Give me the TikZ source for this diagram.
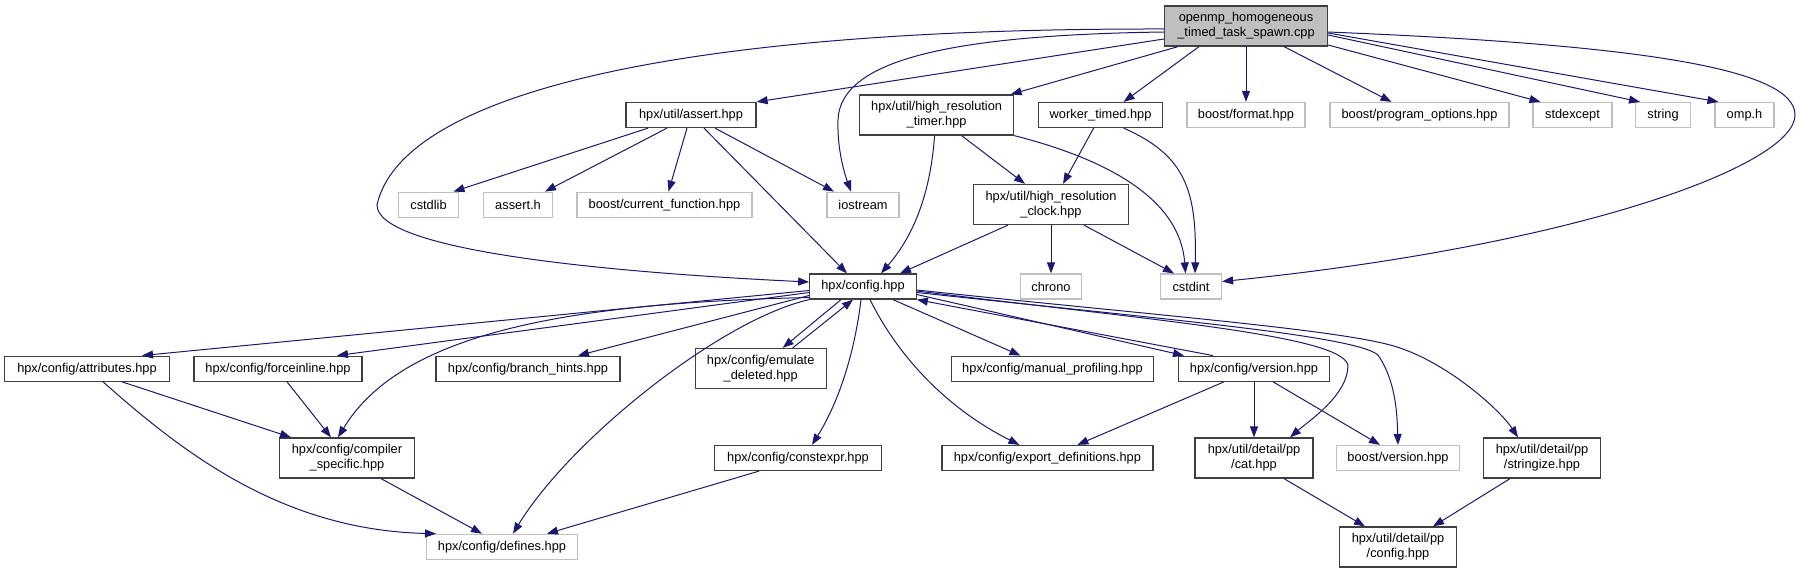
\documentclass[tikz,border=0pt]{standalone}
\usepackage{fontspec}
\setmainfont{Liberation Sans}
\usetikzlibrary{arrows.meta}
\definecolor{edgeblue}{RGB}{25,25,112}
\definecolor{boxline}{RGB}{64,64,64}
\definecolor{sysline}{RGB}{191,191,191}
\definecolor{rootfill}{RGB}{191,191,191}
\newcommand{\doxfont}{\fontsize{12.8}{15}\selectfont}

\begin{document}
\begin{tikzpicture}[x=1pt, y=-1pt,
  hdr/.style={draw=boxline, fill=white, line width=1.25pt, inner sep=0pt,
    minimum height=25pt, font=\doxfont, align=center},
  hdrtwo/.style={hdr, minimum height=40pt},
  sys/.style={hdr, draw=sysline},
  root/.style={hdrtwo, fill=rootfill},
  inc/.style={-{Triangle[length=11pt,width=8pt]}, line width=1pt, edgeblue}
]
\useasboundingbox (0,0) rectangle (1800,573);
% top file
\node[root, minimum width=163pt] (main) at (1246,26) {openmp\_homogeneous\\\_timed\_task\_spawn.cpp};
% direct includes
\node[hdr, minimum width=130pt] (assert) at (691,115) {hpx/util/assert.hpp};
\node[hdrtwo, minimum width=154pt] (hrtimer) at (936.6,115) {hpx/util/high\_resolution\\\_timer.hpp};
\node[hdr, minimum width=124pt] (worker) at (1100.6,115) {worker\_timed.hpp};
\node[sys, minimum width=118pt] (bformat) at (1246,115) {boost/format.hpp};
\node[sys, minimum width=179pt] (bpo) at (1419.5,115) {boost/program\_options.hpp};
\node[sys, minimum width=79pt] (stdexcept) at (1572.5,115) {stdexcept};
\node[sys, minimum width=55pt] (string) at (1663,115) {string};
\node[sys, minimum width=59pt] (omp) at (1744.5,115) {omp.h};
% second level
\node[sys, minimum width=60pt] (cstdlib) at (428.5,204.7) {cstdlib};
\node[sys, minimum width=69pt] (asserth) at (518,204.7) {assert.h};
\node[sys, minimum width=175pt] (curfunc) at (664.5,204.7) {boost/current\_function.hpp};
\node[sys, minimum width=72pt] (iostream) at (863,204.7) {iostream};
\node[hdrtwo, minimum width=154.5pt] (hrclock) at (1051,204.5) {hpx/util/high\_resolution\\\_clock.hpp};
% config level
\node[hdr, minimum width=106.5pt] (config) at (863,286.5) {hpx/config.hpp};
\node[sys, minimum width=61pt] (chrono) at (1051,286.5) {chrono};
\node[sys, minimum width=61pt] (cstdint) at (1191,286.5) {cstdint};
% config includes
\node[hdr, minimum width=164.6pt] (attributes) at (87,368.7) {hpx/config/attributes.hpp};
\node[hdr, minimum width=168pt] (forceinline) at (278,368.7) {hpx/config/forceinline.hpp};
\node[hdr, minimum width=184pt] (branch) at (528,368.7) {hpx/config/branch\_hints.hpp};
\node[hdrtwo, minimum width=131pt] (emulate) at (760.7,368.5) {hpx/config/emulate\\\_deleted.hpp};
\node[hdr, minimum width=202.5pt] (manual) at (1052.5,368.7) {hpx/config/manual\_profiling.hpp};
\node[hdr, minimum width=151pt] (version) at (1254,368.7) {hpx/config/version.hpp};
\node[hdrtwo, minimum width=134.7pt] (compiler) at (347,458) {hpx/config/compiler\\\_specific.hpp};
\node[hdr, minimum width=167pt] (constexpr) at (798,458) {hpx/config/constexpr.hpp};
\node[hdr, minimum width=211pt] (export) at (1047.4,458) {hpx/config/export\_definitions.hpp};
\node[hdrtwo, minimum width=118pt] (cat) at (1254,458) {hpx/util/detail/pp\\/cat.hpp};
\node[sys, minimum width=122.5pt] (bversion) at (1398,458) {boost/version.hpp};
\node[hdrtwo, minimum width=117.5pt] (stringize) at (1542,458) {hpx/util/detail/pp\\/stringize.hpp};
\node[sys, minimum width=150.4pt] (defines) at (502,546.8) {hpx/config/defines.hpp};
\node[hdrtwo, minimum width=117.5pt] (ppconfig) at (1398,547) {hpx/util/detail/pp\\/config.hpp};

% edges from the top file
\draw[inc] ([yshift=-3pt]main.west) .. controls (650,28) and (400,100) .. (377,205)
  .. controls (377,250) and (600,272) .. ([yshift=4.5pt]config.west);
\draw[inc] ([yshift=-6pt]main.west) .. controls (950,35) and (840,60) .. (838,120)
  .. controls (837,150) and (845,175) .. ([xshift=-12pt]iostream.north);
\draw[inc] ([yshift=-13pt]main.west) -- (assert.north east);
\draw[inc] ([xshift=-68pt]main.south) -- ([xshift=74pt]hrtimer.north);
\draw[inc] ([xshift=-47pt]main.south) -- ([xshift=23pt]worker.north);
\draw[inc] (main.south) -- (bformat.north);
\draw[inc] ([xshift=38pt]main.south) -- ([xshift=-28pt]bpo.north);
\draw[inc] ([yshift=-19pt]main.east) -- ([xshift=-32pt]stdexcept.north);
\draw[inc] ([yshift=-9pt]main.east) -- ([xshift=-23pt]string.north);
\draw[inc] ([yshift=-7pt]main.east) -- ([xshift=-26pt]omp.north);
\draw[inc] ([yshift=-6pt]main.east) .. controls (1650,45) and (1795,70) .. (1795,115)
  .. controls (1795,165) and (1580,245) .. ([yshift=5pt]cstdint.east);
% second level
\draw[inc] ([xshift=-43pt]assert.south) -- ([xshift=25pt]cstdlib.north);
\draw[inc] ([xshift=-24pt]assert.south) -- ([xshift=27pt]asserth.north);
\draw[inc] ([xshift=-4pt]assert.south) -- ([xshift=4pt]curfunc.north);
\draw[inc] ([xshift=24pt]assert.south) -- ([xshift=-29pt]iostream.north);
\draw[inc] ([xshift=13pt]assert.south) -- ([xshift=-16pt]config.north);
\draw[inc] ([xshift=-2pt]hrtimer.south) .. controls (930,200) and (910,240) .. ([xshift=18pt]config.north);
\draw[inc] ([xshift=25pt]hrtimer.south) -- ([xshift=-26pt]hrclock.north);
\draw[inc] (hrtimer.south east) .. controls (1110,160) and (1180,200) .. ([xshift=-5.5pt]cstdint.north);
\draw[inc] ([xshift=-7pt]worker.south) -- ([xshift=12pt]hrclock.north);
\draw[inc] ([xshift=23pt]worker.south) .. controls (1185,155) and (1197,190) .. ([xshift=4pt]cstdint.north);
\draw[inc] ([xshift=-43pt]hrclock.south) -- ([xshift=37pt]config.north);
\draw[inc] (hrclock.south) -- (chrono.north);
\draw[inc] ([xshift=33pt]hrclock.south) -- ([xshift=-17pt]cstdint.north);
% config includes
\draw[inc] ([yshift=-4pt]config.west) -- ([xshift=55pt]attributes.north);
\draw[inc] ([yshift=-6pt]config.west) -- ([xshift=59pt]forceinline.north);
\draw[inc] ([yshift=-9pt]config.west) -- ([xshift=50pt]branch.north);
\draw[inc] ([yshift=-11pt]config.west) .. controls (560,303) and (400,335) .. ([xshift=-9pt]compiler.north);
\draw[inc] (config.south west) .. controls (720,320) and (570,440) .. ([xshift=11pt]defines.north);
\draw[inc] ([xshift=-22pt]config.south) -- ([xshift=22pt]emulate.north);
\draw[inc] ([xshift=32pt]emulate.north) -- ([xshift=-10pt]config.south);
\draw[inc] ([xshift=-2pt]config.south) .. controls (855,350) and (840,400) .. ([xshift=14pt]constexpr.north);
\draw[inc] ([xshift=7pt]config.south) .. controls (900,360) and (950,410) .. ([xshift=-28pt]export.north);
\draw[inc] ([xshift=30pt]config.south) -- ([xshift=-32pt]manual.north);
\draw[inc] ([yshift=-8pt]config.east) -- ([xshift=-70pt]version.north);
\draw[inc] ([xshift=-41pt]version.north) -- (config.south east);
\draw[inc] ([yshift=-4.5pt]config.east) .. controls (1150,320) and (1340,335) .. (1348,365)
  .. controls (1348,395) and (1310,420) .. ([xshift=36pt]cat.north);
\draw[inc] ([yshift=-6pt]config.east) .. controls (1150,318) and (1355,335) .. (1378,355)
  .. controls (1395,380) and (1397,410) .. (bversion.north);
\draw[inc] ([yshift=-3.5pt]config.east) .. controls (1150,315) and (1350,330) .. (1400,348)
  .. controls (1450,365) and (1500,410) .. ([xshift=-24pt]stringize.north);
% lower levels
\draw[inc] ([xshift=35pt]attributes.south) -- ([xshift=-56pt]compiler.north);
\draw[inc] ([xshift=16pt]attributes.south) .. controls (180,450) and (280,530) .. ([xshift=-66pt]defines.north);
\draw[inc] ([xshift=9pt]forceinline.south) -- ([xshift=-16pt]compiler.north);
\draw[inc] ([xshift=34pt]compiler.south) -- ([xshift=-20pt]defines.north);
\draw[inc] ([xshift=-39pt]constexpr.south) -- ([xshift=45pt]defines.north);
\draw[inc] ([xshift=-30pt]version.south) -- ([xshift=30pt]export.north);
\draw[inc] (version.south) -- (cat.north);
\draw[inc] ([xshift=19pt]version.south) -- ([xshift=-18pt]bversion.north);
\draw[inc] ([xshift=30pt]cat.south) -- ([xshift=-33pt]ppconfig.north);
\draw[inc] ([xshift=-32pt]stringize.south) -- ([xshift=35pt]ppconfig.north);
\end{tikzpicture}
\end{document}
